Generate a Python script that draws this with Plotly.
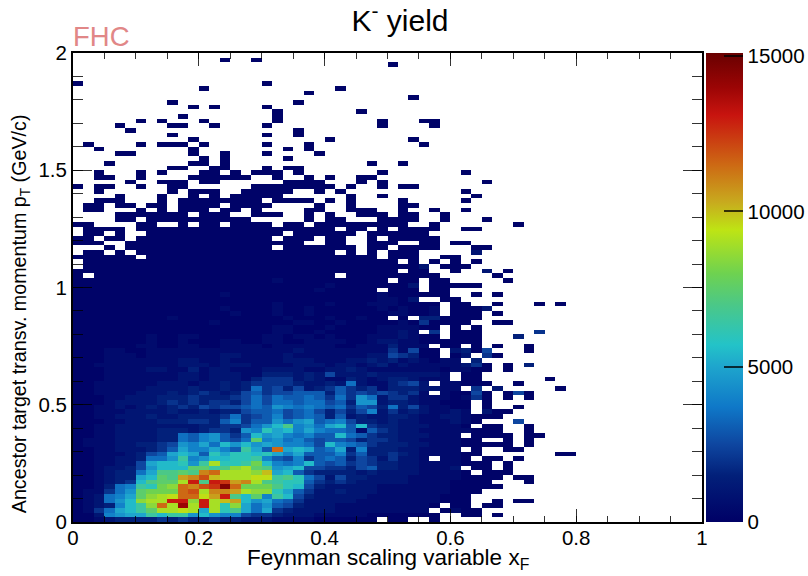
import plotly.graph_objects as go

# Bin-content codes, one string per y bin from pT=2 (top) to pT=0 (bottom).
# '.' = empty bin, letters = estimated yield level (see LEVEL_CODES). Spaces only group columns by ten.
ROWS_TOP_DOWN = [
"",
".......... ....a..a",
".......... .......... .......... a",
"",
"",
"",
"a......... ........a",
".......... ..a....... .....a",
".......... .......... ..a",
".......... .......... .......... ..a",
".........a .......... .a",
".......... .a.a....a",
".......... .........a .......a",
".......... a........a",
"......a.a. ..a......a .........a ...aa",
"....a....a a..a....a. .........a ....a",
".....a.... .......... .a",
".........a ........a. .a",
".......... .a........ ....a..... ..a",
".a....a.aa a.a.....a. ..a....... ...a",
"..a....... .a........ a.a",
"....aa.... .a..a...a. ...a",
".......... ..a.a..... a",
"...a...... .aa.a..... ........a. .a",
".........a a..aa...a. aa",
"..a...a.a. ..aa.a.aaa .a.......a .......a",
"..aa..a... .aaaaaa..a ..a.a..aa",
".....a..aa a.aa...... aaaa...a.a .........a",
"a.aa..a..a a......aaa aaaaa.a..a .aa",
"..a......a .aaa..aaaa a..a.a.... .......a",
"....a...a. .a.a.aaaaa ......a..a ........a",
"..aaa...a. aaaaaaaa.a aaa.a.a... .a.....a",
".aa.aa.aa. aaaa.aaaa. ...a..a... .aa",
".aa...a.a. aaa.aa.a.. ..aa..aaa. .a..a..a",
"....aaaaaa a.aaa..aaa ..a.a..aaa .aa..a",
"....aa.aaa aaaaaaa... ..a.aa...a aaa..a...a",
"aa....aa.. a.aa.aaaa. aa.aaaaaaa aa..a..... ..a",
".aaaa.aaaa aaaaaaaaaa aaaaa.aa.a .aaaa..aa",
".aa.a..aaa aaaaaaaaaa .aaaaaa.aa aaaa",
"aa.aa.aaaa aaaaaaaaa. aaa.aa..a. aaaaa",
"aaa..aaaaa aaaaaaaaaa aa..aa..aa a..aa.aa",
"...a.aaaaa aaaaaaaaa. aaaaaaa.aa .aaaa...aa",
".aa.a.aaaa aaaaaaaaaa aaaaa.a.a. aaa.....c",
"aaaaaa.aaa aaaaaaaaaa aaaaaaaaa. aaa..aa",
".aaaaaaaaa aaaaaaaaaa aaaaaaaaaa a.a.a.a.a",
".aaaaaaaaa aaaaaaaaaa aaaaaaaaaa aaac.aaa",
"aaaaaaaaaa aaaaaaaaaa aaaaaaaaaa a.aa..a..c .a",
"a.aaaaaaaa aaaaaaaaaa aaaaa.aaaa aaaaa..... a",
"aaaaaaaaaa aaaaaaaaab aaaaaaaaaa .aa.aa.... .a",
"aaaaaaaaaa aaaaaaaaaa aaaabaaaaa aac.aaaaa",
"aaaaaaaaaa aaaaaaaaaa aaabaaaaa. aaa.aa",
"aaaaaaaaaa aaaabaaaaa aaaaaaaaab aaaaaa..a. a",
"aaaaaaaaaa aaaaaaaaaa aaaaaaaaab bac..aa",
"aaaaaaaaaa aaaaaaaaab aaaabaaabb baaaa.aa.. a...a.a",
"aaaaaaaaaa aaaabaaaab aabaaaaaab abaab.aaac",
"aaaaaaaaaa aaaaabaaab aabaaaaaaa bbaab.aaa. a",
"aaaaaaaaab aaaaaaaaaa baaabaabaa .a.ddaaaa",
"aaaaaaaaaa aaabaaaaaa abbaabaaaa abaeaaaa.. aa",
"aaaaaaaaaa aaaaaaaaab baaabaaaab bbbaa.a.a",
"aaaaaaaaaa aaaaaaaaab baabaaaaab bcb.e.aaa. ....e",
"aaaaaaabaa bbaaaaaabb abbabaaabb bcbaa.aaa. ..d",
"aaaaaaabaa baaabbaabb aabbbbaabc cbbaaaaaa",
"aaaaaabbaa bbaabbbbab bbbbbaabbb dbbb.aa.a. a..a",
"aaabbaabbb bbbbbbbbbb bcbbbbbbbb ebfaa.cdaf ...a",
"aaabbbabbb bbbbccbbbb cbbbbbbbcc fedaa.ac.e a",
"aaabbbbbbb ccbbcbbbbb cccbbbccdc dbcbabb.d.",
"aabbbbbbbb cccbcccbbb bcccbccbcd bcbbbbbcea .a.d",
"aaabbbbccb bdbccbbbcc ccbbccdcbb bbbbbabbaa .a",
"aaabbbbbbb ccbcccbbdd dcdcfcccdc cccccb.aa",
"aaabbbbbbb ccbcccbdee ecdcbbdcbc ddcbbb.aa. .....a",
"aabbbbbbcc cbccdcdeee edccdchcbb defc.bbaaa ..a",
"aabbbbbccc cdccdcdhef dfcdegedeb dddccbb.e. c.....a",
"aabbbbcccd cdedcdfgef fgggdgefef edeb.baafa .afa",
"aaabbcccdd dedddefhfh gghgehejhc eecbbbabea .a.a",
"aaabccccde dedeedfhfh hghhfgdjjc ddcbbaaa.a",
"aabbcbcdcd edfeffghgj ihihghegfd hdfcbbaa.a ..a",
"aabbbccccd ccdcddfggh fghfdfdfic ecdcbbcb.c aa",
"aabbcccdcc ddddehefgi fghgdgcdcc ddcbbccbaa a",
"aaabbcccdd deedgieggj hjkghifddc dccbbbcba. ..f",
"aabbcccccc ccddeefhjl oijhklgled dcccbbba.a a..a",
"aabbccccdd dcdeedjimk likihhgbge dccbbbbbaa a..a",
"aabbccccdd hgijgegljk ihigglhged dcccbbb.aa aa.aa",
"abbbccccdd hgijgfhpij higfggfdee dccbbbbaa. .a.a",
"abbbccddef jikhljljkj iihflihged ddccbbbaaa aa.a",
"aabbcccdeg kiikignkgx klkghkdidd dccbbbb.a. .aa",
"aabbbcdfgk lkgmkmmlmk ikgggiegdd edcbbbbaa. ......aa",
"aabbccdhhj nijllmmnig fieghgdfec eccb.bba.a a.a",
"aabbccfkll mjnsmmnqli hilgfgefed dccbbbbaaa .a",
"aabccdfjll lppnorspoj klffeedfgd dccbbbc.aa .a",
"aabcddhkoo powxsssruk lgeddddcdc cccbbbba.a aa",
"aabcddklpo vwyusssttn omhfcfddcc ccbbbbbaaa a.aa",
"aabcdelopp sAoAzvwson mmgededccc ccbbbbaaaa ...a",
"aabdhinmqr xwyzDxqqqo mlfdcccccb bbbbbbaaaa a",
"abbehjpqqq xyswwvsrrm kgeccdcccb bbbbbbaaa",
"abchikprst xxtvAolpin lfdcccccbb bbbbbaaa",
"abchjlrssA ArAsuvljkh gecccccbbb bbbbbaaa.. a.aa",
"abcdilnrxs CsAsmrkhjg fdcccbbbbb bbbba.aa.a a",
"abehklnpss tsksmokhke dccccbbbbb bbbb.abaa.",
"aacijkknln njljiifeed cccbbbbbaa aaaaa..aa. a",
"aabcdddded eddeddcccb bbbaaaaaa. aa..a",
]

# Estimated yield for each code.
LEVEL_CODES = {
    "a": 150, "b": 500, "c": 1000, "d": 1500, "e": 2000, "f": 2500, "g": 3000, "h": 3500,
    "i": 4000, "j": 4500, "k": 5000, "l": 5500, "m": 6000, "n": 6500, "o": 7000, "p": 7500,
    "q": 8000, "r": 8500, "s": 9000, "t": 9500, "u": 10000, "v": 10500, "w": 11000,
    "x": 11500, "y": 12000, "z": 12500, "A": 13000, "B": 13500, "C": 14000, "D": 14500, "E": 15000,
}

N_X_BINS = 60
X_TICK_VALUES = [0, 0.2, 0.4, 0.6, 0.8, 1]
X_TICK_LABELS = ["0", "0.2", "0.4", "0.6", "0.8", "1"]
Y_TICK_VALUES = [0, 0.5, 1, 1.5, 2]
Y_TICK_LABELS = ["0", "0.5", "1", "1.5", "2"]
Z_TICK_VALUES = [0, 5000, 10000, 15000]
Z_TICK_LABELS = ["0", "5000", "10000", "15000"]
Z_MAX = 15100

COLOR_STOPS = [
    (0, "rgb(0,0,102)"), (1500, "rgb(2,32,122)"), (2500, "rgb(14,70,160)"),
    (3700, "rgb(15,120,200)"), (5000, "rgb(30,165,205)"), (5700, "rgb(35,195,200)"),
    (7000, "rgb(75,200,135)"), (8000, "rgb(110,210,80)"), (9400, "rgb(190,228,20)"),
    (10300, "rgb(200,170,30)"), (11500, "rgb(205,105,20)"), (13100, "rgb(200,20,15)"),
    (14000, "rgb(155,5,5)"), (15100, "rgb(105,0,0)"),
]

z = []
for row in reversed(ROWS_TOP_DOWN):
    codes = row.replace(" ", "").ljust(N_X_BINS, ".")
    z.append([LEVEL_CODES.get(c) for c in codes])

FONT = "Liberation Sans, Arial, sans-serif"
TICK_SIZE = 20.5

fig = go.Figure(go.Heatmap(
    z=z, x0=1 / (2 * N_X_BINS), dx=1 / N_X_BINS, y0=0.01, dy=0.02,
    zmin=0, zmax=Z_MAX, zsmooth=False, hoverongaps=False,
    colorscale=[[v / Z_MAX, c] for v, c in COLOR_STOPS],
    colorbar=dict(
        x=1.0064, xanchor="left", xpad=0, y=0.5, yanchor="middle", ypad=0, len=1,
        thickness=37, outlinewidth=0, tickmode="array",
        tickvals=Z_TICK_VALUES, ticktext=Z_TICK_LABELS, ticks="inside", ticklen=19,
        tickcolor="rgba(0,0,0,0.75)", tickwidth=1.5,
        tickfont=dict(family=FONT, size=TICK_SIZE, color="black"),
    ),
))

axis_common = dict(
    showgrid=False, zeroline=False, showline=True, linecolor="black", linewidth=2,
    mirror="allticks", ticks="inside", tickcolor="rgba(0,0,0,0.8)", tickwidth=1.2,
    tickfont=dict(family=FONT, size=TICK_SIZE, color="black"),
    tickmode="array",
)

fig.update_layout(
    width=808, height=576, autosize=False,
    margin=dict(l=73, r=106, t=52.5, b=54, autoexpand=False),
    paper_bgcolor="white", plot_bgcolor="white",
    font=dict(family=FONT, color="black"),
    title=dict(text="K<sup>-</sup> yield", x=400 / 808, xanchor="center", y=0.965, yanchor="middle",
               font=dict(family=FONT, size=30, color="black")),
    xaxis=dict(
        range=[0, 1], tickvals=X_TICK_VALUES, ticktext=X_TICK_LABELS, ticklen=13,
        ticklabelstandoff=-4,
        minor=dict(dtick=0.05, ticks="inside", ticklen=6, tickcolor="rgba(0,0,0,0.8)", tickwidth=1.2),
        **axis_common,
    ),
    yaxis=dict(
        range=[0, 2], tickvals=Y_TICK_VALUES, ticktext=Y_TICK_LABELS, ticklen=19,
        minor=dict(dtick=0.1, ticks="inside", ticklen=10, tickcolor="rgba(0,0,0,0.8)", tickwidth=1.2),
        **axis_common,
    ),
    annotations=[
        dict(text="FHC", xref="paper", yref="paper", x=0, xanchor="left", y=1.0, yanchor="bottom",
             xshift=-2, yshift=-1, showarrow=False,
             font=dict(family=FONT, size=27.5, color="rgb(225,135,135)")),
        dict(text="Feynman scaling variable x<sub>F</sub>", xref="paper", yref="paper",
             x=(388 - 73) / 629, xanchor="center", y=0, yanchor="top", yshift=-21, showarrow=False,
             font=dict(family=FONT, size=22.5, color="black")),
        dict(text="Ancestor target transv. momentum p<sub>T</sub> (GeV/c)", xref="paper", yref="paper",
             x=0, xshift=-53, y=(522 - 314) / 469.5, yanchor="middle", xanchor="center", textangle=-90,
             showarrow=False, font=dict(family=FONT, size=19.7, color="black")),
    ],
)

# The page's default 8 px body margin is removed so the figure fills the window exactly.
fig.write_html("out.html", config={"displayModeBar": False},
               post_script="document.body.style.margin='0px';")
